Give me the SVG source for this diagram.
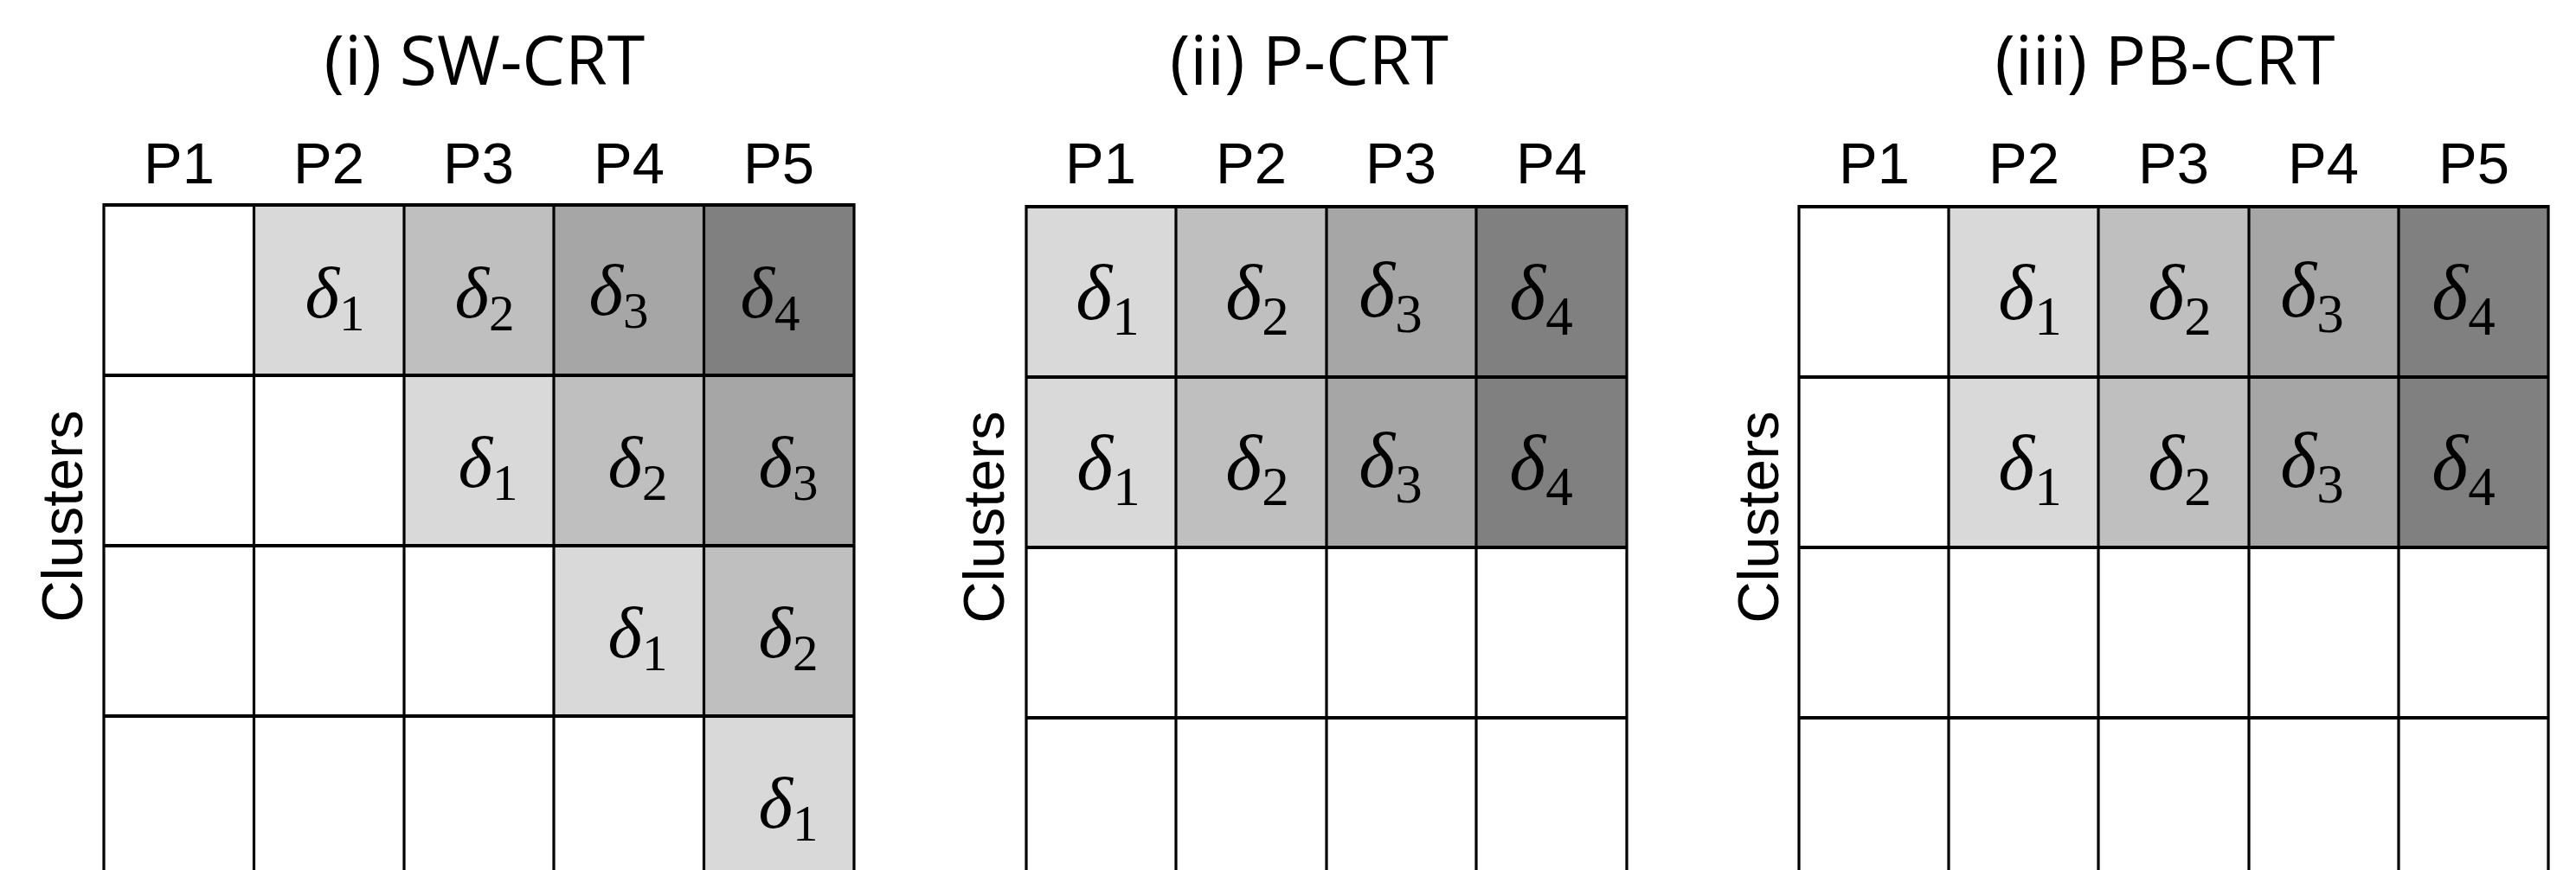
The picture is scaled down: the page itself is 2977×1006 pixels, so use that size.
<svg xmlns="http://www.w3.org/2000/svg" width="2977" height="1006" viewBox="0 0 2977 1006">
<style>
.bg{fill:#ffffff}
.c1{fill:#d9d9d9}.c2{fill:#bfbfbf}.c3{fill:#a6a6a6}.c4{fill:#808080}
.h{stroke:#000;stroke-width:4;fill:none}
.v{stroke:#000;stroke-width:3.2;fill:none}
.ttl{font-family:"Open Sans","Liberation Sans",sans-serif;font-size:79px;text-anchor:middle;fill:#000}
.lbl{font-family:"Liberation Sans",Arial,sans-serif;font-size:67px;text-anchor:middle;fill:#000}
.da{font-family:"Liberation Serif","Times New Roman",serif;font-size:85px;text-anchor:middle;fill:#000}
.db{font-family:"Liberation Serif","Times New Roman",serif;font-size:90px;text-anchor:middle;fill:#000}
.it{font-style:italic}
.sa{font-size:59px}
.sb{font-size:63px}
</style>
<rect class="bg" x="0" y="0" width="2977" height="1006"/>

<g id="panel-sw-crt">
  <text class="ttl" x="560" y="98">(i) SW-CRT</text>
  <text class="lbl" x="207" y="212">P1</text>
  <text class="lbl" x="380" y="212">P2</text>
  <text class="lbl" x="553" y="212">P3</text>
  <text class="lbl" x="727" y="212">P4</text>
  <text class="lbl" x="900" y="212">P5</text>
  <text class="lbl" transform="translate(95,597) rotate(-90)">Clusters</text>
  <g id="sw-cells">
    <rect class="c1" x="293.5" y="237" width="173.5" height="197"/>
    <rect class="c2" x="467" y="237" width="173" height="197"/>
    <rect class="c3" x="640" y="237" width="173.5" height="197"/>
    <rect class="c4" x="813.5" y="237" width="173.5" height="197"/>
    <rect class="c1" x="467" y="434" width="173" height="197"/>
    <rect class="c2" x="640" y="434" width="173.5" height="197"/>
    <rect class="c3" x="813.5" y="434" width="173.5" height="197"/>
    <rect class="c1" x="640" y="631" width="173.5" height="197"/>
    <rect class="c2" x="813.5" y="631" width="173.5" height="197"/>
    <rect class="c1" x="813.5" y="828" width="173.5" height="178"/>
  </g>
  <g id="sw-grid">
    <path class="h" d="M120 237H987M120 434H987M120 631H987M120 828H987"/>
    <path class="v" d="M120 235V1006M293.5 237V1006M467 237V1006M640 237V1006M813.5 237V1006M987 235V1006"/>
  </g>
  <g id="sw-labels">
    <text class="da" x="387" y="367"><tspan class="it">δ</tspan><tspan class="sa" dy="15">1</tspan></text>
    <text class="da" x="560" y="367"><tspan class="it">δ</tspan><tspan class="sa" dy="15">2</tspan></text>
    <text class="da" x="715" y="364"><tspan class="it">δ</tspan><tspan class="sa" dy="15">3</tspan></text>
    <text class="da" x="890" y="367"><tspan class="it">δ</tspan><tspan class="sa" dy="15">4</tspan></text>
    <text class="da" x="564" y="563"><tspan class="it">δ</tspan><tspan class="sa" dy="15">1</tspan></text>
    <text class="da" x="737" y="563"><tspan class="it">δ</tspan><tspan class="sa" dy="15">2</tspan></text>
    <text class="da" x="911" y="563"><tspan class="it">δ</tspan><tspan class="sa" dy="15">3</tspan></text>
    <text class="da" x="737" y="760"><tspan class="it">δ</tspan><tspan class="sa" dy="15">1</tspan></text>
    <text class="da" x="911" y="760"><tspan class="it">δ</tspan><tspan class="sa" dy="15">2</tspan></text>
    <text class="da" x="911" y="957"><tspan class="it">δ</tspan><tspan class="sa" dy="15">1</tspan></text>
  </g>
</g>

<g id="panel-p-crt">
  <text class="ttl" x="1513" y="98">(ii) P-CRT</text>
  <text class="lbl" x="1272" y="212">P1</text>
  <text class="lbl" x="1446" y="212">P2</text>
  <text class="lbl" x="1619" y="212">P3</text>
  <text class="lbl" x="1793" y="212">P4</text>
  <text class="lbl" transform="translate(1160,598) rotate(-90)">Clusters</text>
  <g id="p-cells">
    <rect class="c1" x="1186" y="239" width="173" height="394"/>
    <rect class="c2" x="1359" y="239" width="174" height="394"/>
    <rect class="c3" x="1533" y="239" width="173" height="394"/>
    <rect class="c4" x="1706" y="239" width="174" height="394"/>
  </g>
  <g id="p-grid">
    <path class="h" d="M1186 239H1880M1186 436H1880M1186 633H1880M1186 830H1880"/>
    <path class="v" d="M1186 237V1006M1359 239V1006M1533 239V1006M1706 239V1006M1880 237V1006"/>
  </g>
  <g id="p-labels">
    <text class="db" x="1280" y="369"><tspan class="it">δ</tspan><tspan class="sb" dy="18">1</tspan></text>
    <text class="db" x="1453" y="369"><tspan class="it">δ</tspan><tspan class="sb" dy="18">2</tspan></text>
    <text class="db" x="1607" y="366"><tspan class="it">δ</tspan><tspan class="sb" dy="18">3</tspan></text>
    <text class="db" x="1781" y="369"><tspan class="it">δ</tspan><tspan class="sb" dy="18">4</tspan></text>
    <text class="db" x="1281" y="566"><tspan class="it">δ</tspan><tspan class="sb" dy="18">1</tspan></text>
    <text class="db" x="1453" y="566"><tspan class="it">δ</tspan><tspan class="sb" dy="18">2</tspan></text>
    <text class="db" x="1607" y="563"><tspan class="it">δ</tspan><tspan class="sb" dy="18">3</tspan></text>
    <text class="db" x="1781" y="566"><tspan class="it">δ</tspan><tspan class="sb" dy="18">4</tspan></text>
  </g>
</g>

<g id="panel-pb-crt">
  <text class="ttl" x="2502" y="98">(iii) PB-CRT</text>
  <text class="lbl" x="2166" y="212">P1</text>
  <text class="lbl" x="2339" y="212">P2</text>
  <text class="lbl" x="2512" y="212">P3</text>
  <text class="lbl" x="2685" y="212">P4</text>
  <text class="lbl" x="2859" y="212">P5</text>
  <text class="lbl" transform="translate(2055,598) rotate(-90)">Clusters</text>
  <g id="pb-cells">
    <rect class="c1" x="2252" y="239" width="173" height="394"/>
    <rect class="c2" x="2425" y="239" width="174" height="394"/>
    <rect class="c3" x="2599" y="239" width="173" height="394"/>
    <rect class="c4" x="2772" y="239" width="173" height="394"/>
  </g>
  <g id="pb-grid">
    <path class="h" d="M2079 239H2945M2079 436H2945M2079 633H2945M2079 830H2945"/>
    <path class="v" d="M2079 237V1006M2252 239V1006M2425 239V1006M2599 239V1006M2772 239V1006M2945 237V1006"/>
  </g>
  <g id="pb-labels">
    <text class="db" x="2346" y="369"><tspan class="it">δ</tspan><tspan class="sb" dy="18">1</tspan></text>
    <text class="db" x="2519" y="369"><tspan class="it">δ</tspan><tspan class="sb" dy="18">2</tspan></text>
    <text class="db" x="2672" y="366"><tspan class="it">δ</tspan><tspan class="sb" dy="18">3</tspan></text>
    <text class="db" x="2847" y="369"><tspan class="it">δ</tspan><tspan class="sb" dy="18">4</tspan></text>
    <text class="db" x="2346" y="566"><tspan class="it">δ</tspan><tspan class="sb" dy="18">1</tspan></text>
    <text class="db" x="2519" y="566"><tspan class="it">δ</tspan><tspan class="sb" dy="18">2</tspan></text>
    <text class="db" x="2672" y="563"><tspan class="it">δ</tspan><tspan class="sb" dy="18">3</tspan></text>
    <text class="db" x="2847" y="566"><tspan class="it">δ</tspan><tspan class="sb" dy="18">4</tspan></text>
  </g>
</g>
</svg>
